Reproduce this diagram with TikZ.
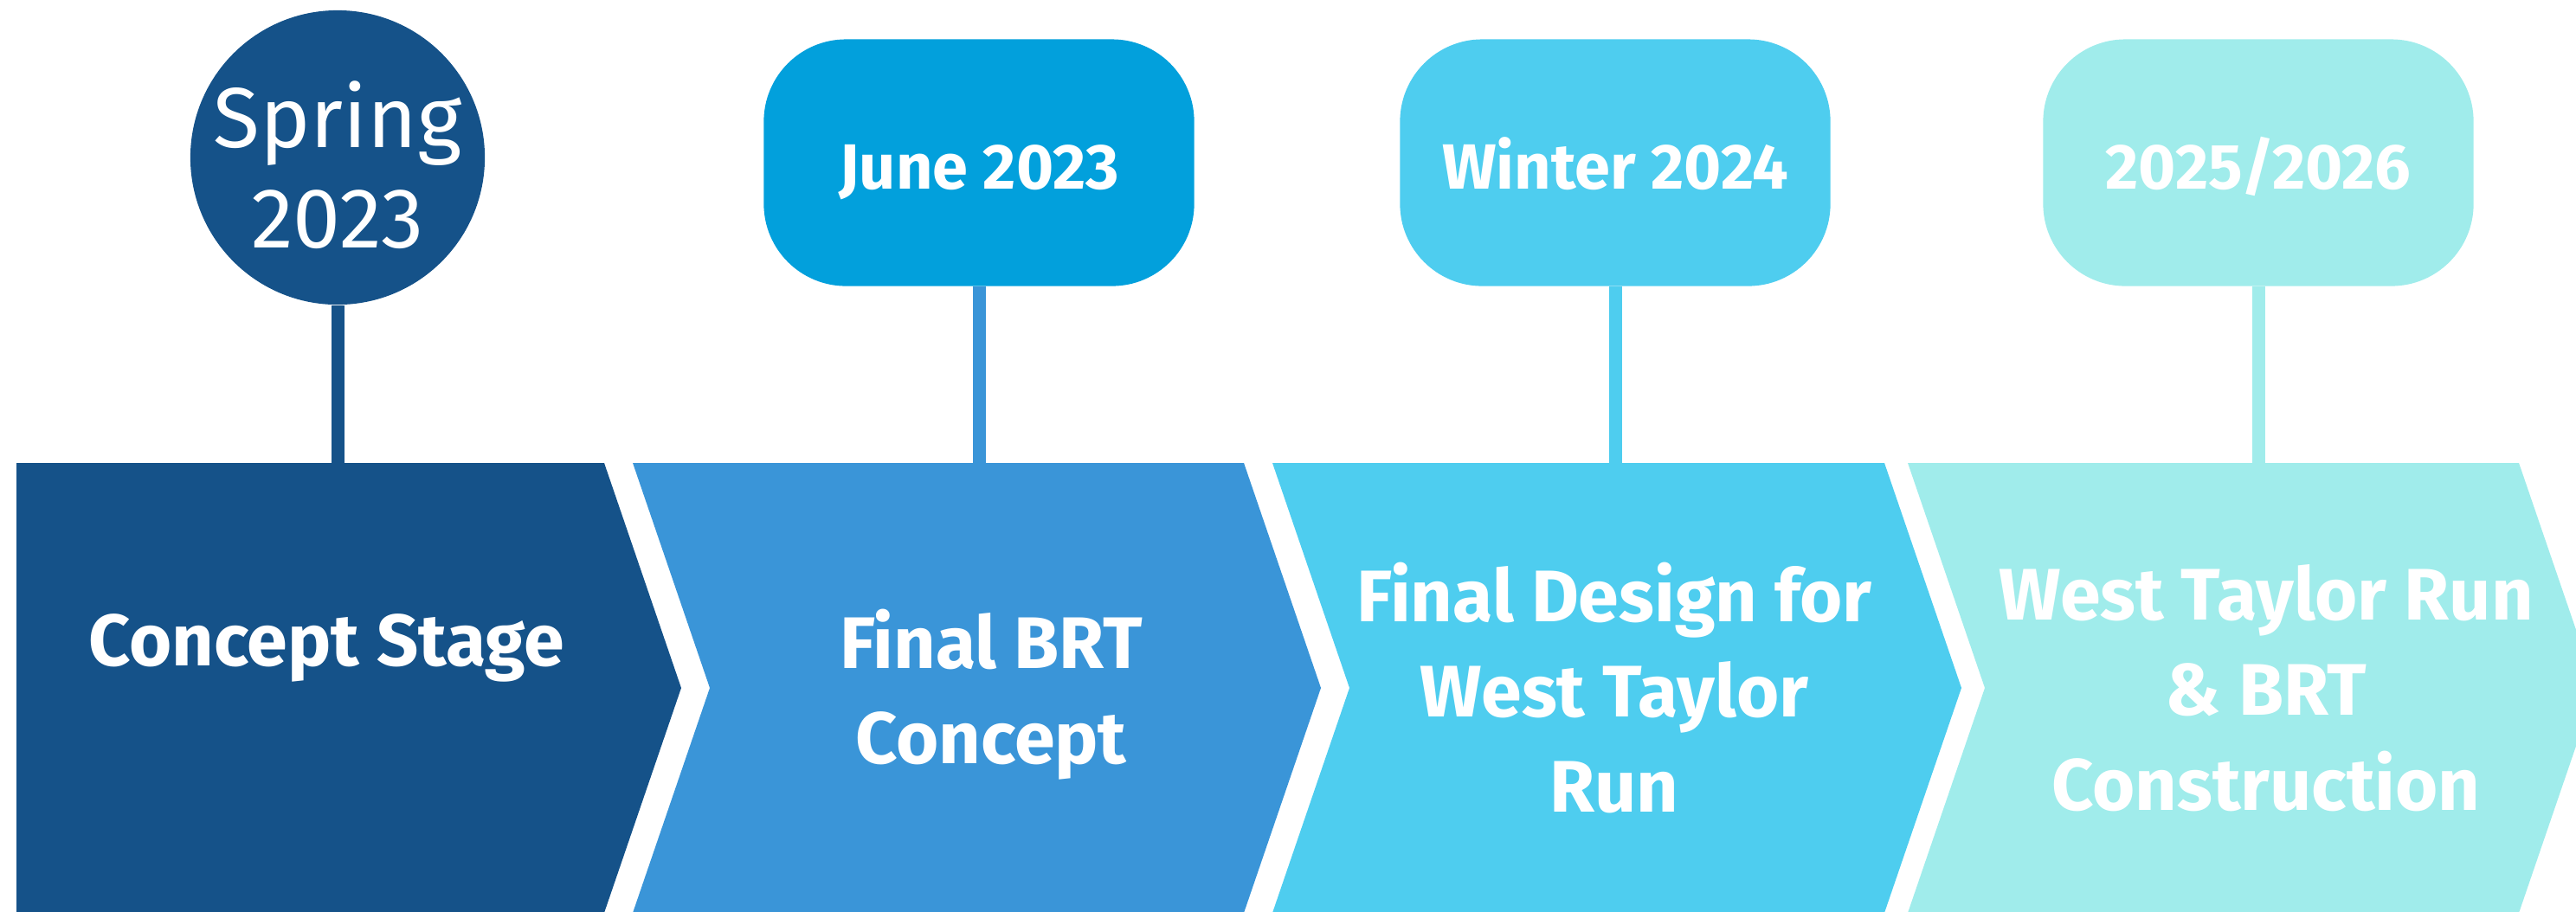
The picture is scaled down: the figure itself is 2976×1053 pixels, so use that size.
\documentclass[tikz,border=0pt]{standalone}
\usepackage{fontspec}
\setmainfont{Fira Sans}
\usetikzlibrary{positioning}
\definecolor{navyblue}{RGB}{21,82,137}
\definecolor{midblue}{RGB}{58,149,216}
\definecolor{juneblue}{RGB}{2,160,220}
\definecolor{skyblue}{RGB}{78,205,239}
\definecolor{aquablue}{RGB}{160,236,235}
\tikzset{
  stagetext/.style={text=white, align=center, inner sep=0pt, font=\fontsize{24pt}{31.3pt}\selectfont\bfseries},
  datebox/.style={rounded corners=0.95cm, minimum width=4.97cm, minimum height=2.85cm, inner sep=0pt, text height=0.6cm, text depth=0cm, text=white, font=\fontsize{21pt}{25pt}\selectfont\bfseries},
  datecircle/.style={circle, fill=navyblue, minimum size=3.4cm, inner sep=-0.2cm, text=white, align=center, font=\fontsize{28pt}{33pt}\selectfont},
  stemline/.style={line width=0.15cm}
}

\begin{document}
\begin{tikzpicture}[x=0.01cm, y=-0.01cm]
  \useasboundingbox (0,0) rectangle (2976,1053);
  \clip (0,0) rectangle (2976,1053);
  % stages
  \fill[navyblue] (19,535) -- (698,535) -- (787,795) -- (698,1055) -- (19,1055) -- cycle;
  \fill[midblue] (731,535) -- (1437,535) -- (1526,795) -- (1437,1055) -- (731,1055) -- (820,795) -- cycle;
  \fill[skyblue] (1470,535) -- (2177,535) -- (2266,795) -- (2177,1055) -- (1470,1055) -- (1559,795) -- cycle;
  \fill[aquablue] (2204,535) -- (2910,535) -- (2999,795) -- (2910,1055) -- (2204,1055) -- (2293,795) -- cycle;
  \node[stagetext] (c1) at (377,749) {Concept Stage};
  \node[stagetext] (c2) at (1145,803) {Final BRT\\Concept};
  \node[stagetext] (c3) at (1865,795) {Final Design for\\West Taylor\\Run};
  \node[stagetext] (c4) at (2618,795) {West Taylor Run\\\& BRT\\Construction};
  % dates
  \node[datecircle] (d1) at (390,182) {\rule{0pt}{0.95cm}Spring\\2023};
  \node[datebox, fill=juneblue] (d2) at (1131,188) {June 2023};
  \node[datebox, fill=skyblue] (d3) at (1866,188) {Winter 2024};
  \node[datebox, fill=aquablue] (d4) at (2609,188) {2025/2026};
  \coordinate (t1) at (390,535);
  \coordinate (t2) at (1131,535);
  \coordinate (t3) at (1866,535);
  \coordinate (t4) at (2609,535);
  \draw[stemline, navyblue] (d1.south) -- (t1);
  \draw[stemline, midblue] (d2.south) -- (t2);
  \draw[stemline, skyblue] (d3.south) -- (t3);
  \draw[stemline, aquablue] (d4.south) -- (t4);
\end{tikzpicture}
\end{document}
